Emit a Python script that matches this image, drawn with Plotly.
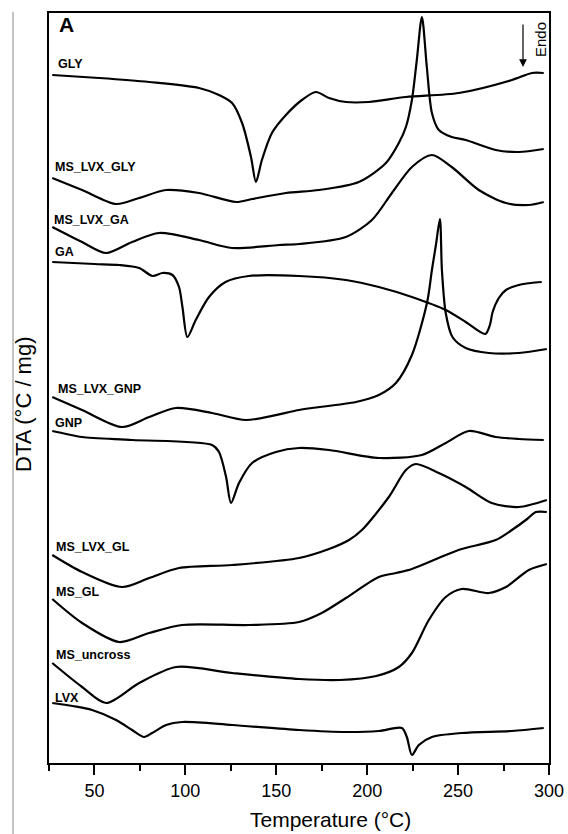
import plotly.graph_objects as go

# Temperature (°C) / offset DTA signal (arbitrary units, stacked curves)
gly_T = [26.8, 52.6, 80.1, 107.5, 118.5, 125.7, 131.2, 136.1, 138.8, 142.1, 147.6, 155.3, 164.1, 171.8, 179.0, 188.3, 200.9, 221.3, 250.4, 279.6, 290.6, 297.1]
gly_v = [688, 685, 681, 675, 668, 660, 640, 606, 581, 603, 630, 648, 663, 671, 665, 661, 661, 666, 670, 683, 690, 690]

ms_lvx_gly_T = [26.8, 43.2, 61.9, 74.6, 89.4, 107.5, 127.9, 136.7, 155.3, 173.5, 195.4, 210.3, 217.4, 221.3, 224.6, 227.3, 230.1, 232.8, 235.6, 239.4, 246.5, 254.2, 270.7, 283.4, 297.1]
ms_lvx_gly_v = [585, 573, 559, 565, 573, 570, 561, 564, 570, 573, 581, 600, 620, 636, 663, 703, 746, 696, 650, 633, 626, 623, 613, 611, 614]

ms_lvx_ga_T = [26.8, 43.2, 56.4, 70.7, 85.5, 107.5, 125.7, 151.5, 162.5, 188.3, 202.6, 213.6, 224.6, 235.6, 246.5, 261.4, 276.3, 288.9, 297.1]
ms_lvx_ga_v = [536, 521, 510, 521, 530, 523, 515, 518, 519, 526, 543, 570, 596, 608, 596, 573, 560, 558, 561]

ga_T = [26.8, 50.0, 63.6, 74.6, 81.9, 87.4, 92.9, 96.5, 98.4, 101.1, 105.7, 113.0, 122.1, 134.9, 162.5, 188.3, 206.4, 224.6, 243.2, 254.2, 265.0, 267.5, 269.0, 272.4, 276.3, 283.4, 290.0, 296.0]
ga_v = [501, 499, 498, 495, 487, 490, 488, 476, 456, 426, 443, 466, 481, 487, 487, 483, 476, 466, 453, 441, 429, 438, 451, 465, 473, 478, 480, 481]

ms_lvx_gnp_T = [26.8, 43.2, 65.2, 80.1, 94.9, 114.7, 133.4, 162.5, 169.6, 193.8, 206.4, 215.8, 224.6, 233.0, 235.6, 237.8, 240.0, 241.1, 243.2, 246.9, 254.2, 266.9, 283.4, 298.8]
ms_lvx_gnp_v = [366, 353, 336, 346, 355, 350, 343, 353, 355, 361, 368, 380, 408, 461, 493, 518, 544, 493, 450, 426, 415, 410, 410, 414]

gnp_T = [26.8, 34.5, 43.2, 70.7, 114.7, 118.5, 122.4, 125.1, 129.5, 136.7, 149.8, 162.5, 179.0, 206.4, 230.1, 243.2, 255.9, 270.7, 283.4, 297.1]
gnp_v = [332, 329, 326, 323, 318, 311, 286, 260, 280, 300, 311, 315, 313, 305, 308, 320, 332, 326, 324, 323]

ms_lvx_gl_T = [26.8, 43.2, 65.2, 80.1, 96.5, 125.7, 162.5, 179.0, 190.0, 197.1, 211.9, 221.3, 226.8, 239.4, 254.2, 268.5, 283.4, 298.8]
ms_lvx_gl_v = [208, 191, 176, 185, 195, 198, 205, 214, 223, 233, 266, 293, 299, 290, 276, 260, 256, 263]

ms_gl_T = [26.8, 43.2, 63.6, 80.1, 98.2, 135.0, 162.5, 175.0, 188.3, 206.4, 215.8, 224.6, 243.2, 252.0, 270.7, 279.6, 288.0, 292.8, 298.8]
ms_gl_v = [164, 140, 121, 130, 138, 138, 141, 150, 165, 186, 190, 194, 208, 214, 223, 233, 244, 251, 251]

ms_uncross_T = [26.8, 43.2, 56.4, 74.6, 94.9, 125.7, 162.5, 185.0, 205.0, 217.4, 224.6, 233.9, 243.2, 252.0, 266.9, 276.3, 288.9, 298.8]
ms_uncross_v = [100, 76, 60, 80, 96, 90, 84, 83, 87, 96, 110, 143, 166, 174, 170, 176, 193, 199]

lvx_T = [26.8, 38.0, 48.7, 61.9, 70.7, 77.3, 81.7, 89.4, 98.2, 125.7, 162.5, 188.3, 206.4, 219.1, 221.8, 224.6, 228.4, 235.6, 252.0, 279.6, 297.1]
lvx_v = [60, 57, 53, 43, 33, 26, 30, 38, 41, 38, 33, 31, 32, 35, 26, 8, 18, 26, 30, 32, 35]

series = [
    ("GLY", gly_T, gly_v),
    ("MS_LVX_GLY", ms_lvx_gly_T, ms_lvx_gly_v),
    ("MS_LVX_GA", ms_lvx_ga_T, ms_lvx_ga_v),
    ("GA", ga_T, ga_v),
    ("MS_LVX_GNP", ms_lvx_gnp_T, ms_lvx_gnp_v),
    ("GNP", gnp_T, gnp_v),
    ("MS_LVX_GL", ms_lvx_gl_T, ms_lvx_gl_v),
    ("MS_GL", ms_gl_T, ms_gl_v),
    ("MS_uncross", ms_uncross_T, ms_uncross_v),
    ("LVX", lvx_T, lvx_v),
]

# label anchor positions (x in °C, y in a.u.)
label_x = [29.0, 27.3, 26.8, 27.3, 29.0, 27.3, 27.9, 27.9, 27.9, 27.3]
label_y = [699, 596, 543, 511, 374, 340, 216, 171, 108, 65]

FONT = "Liberation Sans, Arial, sans-serif"

fig = go.Figure()
for name, T, v in series:
    fig.add_trace(go.Scatter(x=T, y=v, mode="lines", name=name,
                             line=dict(color="black", width=2.2, shape="spline", smoothing=0.8),
                             showlegend=False, hoverinfo="skip"))

annotations = []
for (name, _, _), lx, ly in zip(series, label_x, label_y):
    annotations.append(dict(x=lx, y=ly, xref="x", yref="y", text="<b>%s</b>" % name,
                            showarrow=False, xanchor="left", yanchor="middle",
                            font=dict(family=FONT, size=12.5, color="black")))

annotations += [
    dict(x=0.016, y=0.985, xref="paper", yref="paper", text="<b>A</b>", showarrow=False,
         xanchor="left", yanchor="middle", font=dict(family=FONT, size=21, color="black")),
    dict(x=(540 - 49) / 500, y=(763 - 40) / 750, xref="paper", yref="paper", text="Endo",
         textangle=-90, showarrow=False, xanchor="center", yanchor="middle",
         font=dict(family=FONT, size=15, color="black")),
    dict(x=(523 - 49) / 500, y=(763 - 67) / 750, xref="paper", yref="paper", text="",
         showarrow=True, ax=0, ay=-44, arrowhead=2, arrowsize=1.3, arrowwidth=1.2,
         arrowcolor="black"),
    dict(x=(330.5 - 49) / 500, y=(763 - 819) / 750, xref="paper", yref="paper",
         text="Temperature (°C)", showarrow=False, xanchor="center", yanchor="middle",
         font=dict(family=FONT, size=21, color="black")),
    dict(x=(23 - 49) / 500, y=(763 - 404) / 750, xref="paper", yref="paper",
         text="DTA (°C / mg)", textangle=-90, showarrow=False, xanchor="center", yanchor="middle",
         font=dict(family=FONT, size=22, color="black")),
]

fig.update_layout(
    template="none",
    width=568, height=834,
    margin=dict(l=49, r=19, t=13, b=71, pad=0),
    paper_bgcolor="white", plot_bgcolor="white",
    font=dict(family=FONT, color="black"),
    annotations=annotations,
    shapes=[dict(type="line", xref="paper", yref="paper",
                 x0=(13 - 49) / 500, x1=(13 - 49) / 500,
                 y0=(763 - 834) / 750, y1=(763 - 12) / 750,
                 line=dict(color="#8a8a8a", width=1))],
    xaxis=dict(range=[25, 300], tick0=0, dtick=50, ticks="outside", ticklen=10, tickwidth=2,
               tickcolor="black", showline=True, linewidth=2, linecolor="black", mirror=True,
               showgrid=False, zeroline=False, automargin=False,
               tickfont=dict(family=FONT, size=18, color="black"),
               minor=dict(tick0=0, dtick=25, ticks="outside", ticklen=6, tickwidth=2, tickcolor="black")),
    yaxis=dict(range=[0, 750], showticklabels=False, ticks="", showline=True, linewidth=2,
               linecolor="black", mirror=True, showgrid=False, zeroline=False, automargin=False),
)

fig.write_html("out.html", config={"displayModeBar": False},
               post_script="document.body.style.margin='0';document.body.style.padding='0';"
                           "document.body.style.overflow='hidden';")
